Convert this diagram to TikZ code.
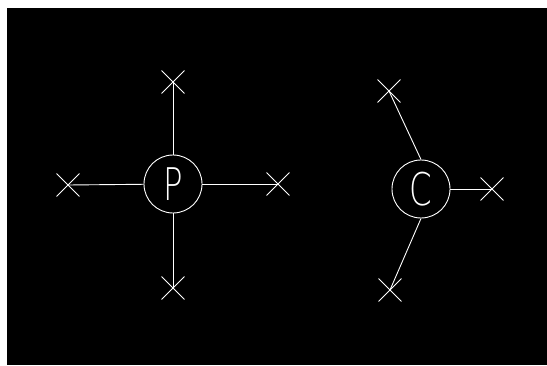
\documentclass[tikz,border=0pt]{standalone}
\usepackage{fontspec}
\newfontfamily\thinfont{DejaVu Sans ExtraLight}
\usetikzlibrary{shapes.misc}
\begin{document}
\begin{tikzpicture}[x=1pt,y=1pt,
  atom/.style={circle,draw=white,line width=0.9pt,minimum size=58pt,inner sep=0pt,
    text=white},
  letter/.style={text=white,font=\thinfont\fontsize{45}{45}\selectfont,xscale=0.72,inner sep=0pt},
  site/.style={cross out,draw=white,line width=0.9pt,minimum size=22pt,inner sep=0pt},
  bond/.style={draw=white,line width=0.9pt}]
\useasboundingbox (0,0) rectangle (547,365);
\fill[white] (0,0) rectangle (547,365);
\fill[black] (7,0) rectangle (547,357);
% P group
\node[atom] (P) at (173,181) {};
\node[letter] (Pl) at (P.center) {P};
\node[site] (pt) at (173,283) {};
\node[site] (pb) at (173,77) {};
\node[site] (pl) at (68,180) {};
\node[site] (pr) at (278,181) {};
\draw[bond] (P) -- (pt.center);
\draw[bond] (P) -- (pb.center);
\draw[bond] (P) -- (pl.center);
\draw[bond] (P) -- (pr.center);
% C group
\node[atom] (C) at (421,176) {};
\node[letter] (Cl) at (C.center) {C};
\node[site] (ct) at (389,274) {};
\node[site] (cr) at (492,176) {};
\node[site] (cb) at (390,75) {};
\draw[bond] (C.north) -- (ct.center);
\draw[bond] (C) -- (cr.center);
\draw[bond] (C.south) -- (cb.center);
\end{tikzpicture}
\end{document}
